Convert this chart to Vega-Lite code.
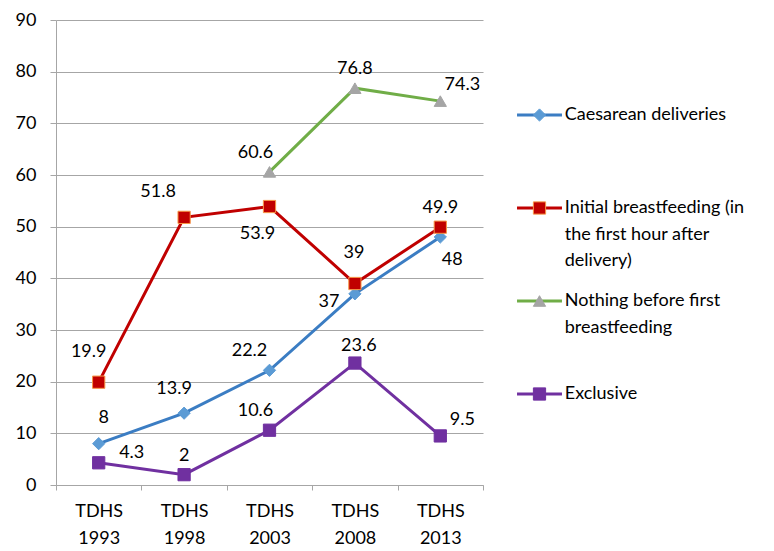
{
  "$schema": "https://vega.github.io/schema/vega-lite/v6.json",
  "width": 427,
  "height": 465,
  "autosize": {"type": "none"},
  "padding": {"left": 56, "top": 20, "right": 291, "bottom": 66},
  "background": "white",
  "config": {
    "view": {"stroke": null},
    "font": "Lato",
    "axis": {"labelFont": "Lato", "labelFontSize": 18, "labelColor": "#000000", "domainColor": "#A6A6A6", "tickColor": "#A6A6A6", "gridColor": "#A6A6A6", "domainWidth": 1, "tickWidth": 1, "gridWidth": 1},
    "legend": {"labelFont": "Lato", "labelFontSize": 18, "labelColor": "#000000", "labelLimit": 400, "padding": 0, "rowPadding": 22, "orient": "none", "labelBaseline": "middle"},
    "text": {"font": "Lato", "fontSize": 18, "color": "#000000"},
    "style": {"guide-label": {"lineHeight": 26.5}}
  },
  "data": {
    "values": [
      {"series": "Caesarean deliveries", "period": "TDHS 1993", "value": 8},
      {"series": "Caesarean deliveries", "period": "TDHS 1998", "value": 13.9},
      {"series": "Caesarean deliveries", "period": "TDHS 2003", "value": 22.2},
      {"series": "Caesarean deliveries", "period": "TDHS 2008", "value": 37},
      {"series": "Caesarean deliveries", "period": "TDHS 2013", "value": 48},
      {"series": "Initial breastfeeding (in the first hour after delivery)", "period": "TDHS 1993", "value": 19.9},
      {"series": "Initial breastfeeding (in the first hour after delivery)", "period": "TDHS 1998", "value": 51.8},
      {"series": "Initial breastfeeding (in the first hour after delivery)", "period": "TDHS 2003", "value": 53.9},
      {"series": "Initial breastfeeding (in the first hour after delivery)", "period": "TDHS 2008", "value": 39},
      {"series": "Initial breastfeeding (in the first hour after delivery)", "period": "TDHS 2013", "value": 49.9},
      {"series": "Nothing before first breastfeeding", "period": "TDHS 2003", "value": 60.6},
      {"series": "Nothing before first breastfeeding", "period": "TDHS 2008", "value": 76.8},
      {"series": "Nothing before first breastfeeding", "period": "TDHS 2013", "value": 74.3},
      {"series": "Exclusive", "period": "TDHS 1993", "value": 4.3},
      {"series": "Exclusive", "period": "TDHS 1998", "value": 2},
      {"series": "Exclusive", "period": "TDHS 2003", "value": 10.6},
      {"series": "Exclusive", "period": "TDHS 2008", "value": 23.6},
      {"series": "Exclusive", "period": "TDHS 2013", "value": 9.5}
    ]
  },
  "encoding": {
    "x": {
      "field": "period", "type": "nominal", "sort": null,
      "scale": {"type": "band", "paddingInner": 0, "paddingOuter": 0},
      "axis": {"title": null, "labelAngle": 0, "tickBand": "extent", "tickSize": 5, "labelPadding": 12, "labelExpr": "split(datum.label, ' ')", "labelLineHeight": 27, "grid": false}
    },
    "y": {
      "field": "value", "type": "quantitative",
      "scale": {"domain": [0, 90], "nice": false},
      "axis": {"title": null, "values": [0, 10, 20, 30, 40, 50, 60, 70, 80, 90], "tickSize": 6, "labelPadding": 14, "grid": true}
    }
  },
  "layer": [
    {
      "mark": {"type": "line", "strokeWidth": 3},
      "encoding": {
        "color": {
          "field": "series", "type": "nominal",
          "scale": {
            "domain": ["Caesarean deliveries", "Initial breastfeeding (in the first hour after delivery)", "Nothing before first breastfeeding", "Exclusive"],
            "range": ["#3B7DC3", "#C00000", "#70AD47", "#7030A0"]
          },
          "legend": {
            "title": null, "legendX": 474.5, "legendY": 86, "zindex": 1,
            "symbolType": "M-3.67,0H3.67", "symbolSize": 150, "symbolStrokeWidth": 3, "labelOffset": 16.25,
            "labelExpr": "datum.label == 'Caesarean deliveries' ? ['Caesarean deliveries', '', ''] : datum.label == 'Exclusive' ? ['Exclusive', '', ''] : datum.label == 'Nothing before first breastfeeding' ? ['Nothing before first', 'breastfeeding', ''] : ['Initial breastfeeding (in', 'the first hour after', 'delivery)']"
          }
        }
      }
    },
    {
      "mark": {"type": "point", "filled": true, "size": 150, "strokeWidth": 1, "opacity": 1},
      "encoding": {
        "shape": {
          "field": "series", "type": "nominal", "sort": null,
          "scale": {"range": ["diamond", "square", "triangle-up", "square"]},
          "legend": {
            "title": null, "legendX": 474.5, "legendY": 86, "zindex": 2, "symbolSize": 150, "symbolStrokeWidth": 1, "labelOpacity": 0, "labelOffset": 16.25,
            "labelExpr": "datum.label == 'Caesarean deliveries' ? ['Caesarean deliveries', '', ''] : datum.label == 'Exclusive' ? ['Exclusive', '', ''] : datum.label == 'Nothing before first breastfeeding' ? ['Nothing before first', 'breastfeeding', ''] : ['Initial breastfeeding (in', 'the first hour after', 'delivery)']"
          }
        },
        "fill": {
          "field": "series", "type": "nominal", "sort": null,
          "scale": {"range": ["#5B9BD5", "#C00000", "#A5A5A5", "#7030A0"]},
          "legend": {
            "title": null, "legendX": 474.5, "legendY": 86, "zindex": 2, "symbolSize": 150, "symbolStrokeWidth": 1, "labelOpacity": 0, "labelOffset": 16.25,
            "labelExpr": "datum.label == 'Caesarean deliveries' ? ['Caesarean deliveries', '', ''] : datum.label == 'Exclusive' ? ['Exclusive', '', ''] : datum.label == 'Nothing before first breastfeeding' ? ['Nothing before first', 'breastfeeding', ''] : ['Initial breastfeeding (in', 'the first hour after', 'delivery)']"
          }
        },
        "stroke": {
          "field": "series", "type": "nominal", "sort": null,
          "scale": {"range": ["#5B9BD5", "#F79646", "#A5A5A5", "#7030A0"]},
          "legend": {
            "title": null, "legendX": 474.5, "legendY": 86, "zindex": 2, "symbolSize": 150, "symbolStrokeWidth": 1, "labelOpacity": 0, "labelOffset": 16.25,
            "labelExpr": "datum.label == 'Caesarean deliveries' ? ['Caesarean deliveries', '', ''] : datum.label == 'Exclusive' ? ['Exclusive', '', ''] : datum.label == 'Nothing before first breastfeeding' ? ['Nothing before first', 'breastfeeding', ''] : ['Initial breastfeeding (in', 'the first hour after', 'delivery)']"
          }
        }
      }
    },
    {"transform": [{"filter": {"field": "value", "oneOf": [76.8, 49.9, 2]}}], "mark": {"type": "text", "dx": 0, "dy": -19}, "encoding": {"text": {"field": "value", "type": "quantitative"}}},
    {"transform": [{"filter": {"field": "value", "oneOf": [23.6]}}], "mark": {"type": "text", "dx": 4, "dy": -17}, "encoding": {"text": {"field": "value", "type": "quantitative"}}},
    {"transform": [{"filter": {"field": "value", "oneOf": [60.6, 10.6]}}], "mark": {"type": "text", "dx": -14, "dy": -19}, "encoding": {"text": {"field": "value", "type": "quantitative"}}},
    {"transform": [{"filter": {"field": "value", "oneOf": [22.2]}}], "mark": {"type": "text", "dx": -20, "dy": -19}, "encoding": {"text": {"field": "value", "type": "quantitative"}}},
    {"transform": [{"filter": {"field": "value", "oneOf": [74.3, 9.5]}}], "mark": {"type": "text", "dx": 22, "dy": -16}, "encoding": {"text": {"field": "value", "type": "quantitative"}}},
    {"transform": [{"filter": {"field": "value", "oneOf": [13.9]}}], "mark": {"type": "text", "dx": -10, "dy": -24}, "encoding": {"text": {"field": "value", "type": "quantitative"}}},
    {"transform": [{"filter": {"field": "value", "oneOf": [19.9]}}], "mark": {"type": "text", "dx": -10, "dy": -30}, "encoding": {"text": {"field": "value", "type": "quantitative"}}},
    {"transform": [{"filter": {"field": "value", "oneOf": [51.8]}}], "mark": {"type": "text", "dx": -26, "dy": -25}, "encoding": {"text": {"field": "value", "type": "quantitative"}}},
    {"transform": [{"filter": {"field": "value", "oneOf": [53.9]}}], "mark": {"type": "text", "dx": -12, "dy": 27}, "encoding": {"text": {"field": "value", "type": "quantitative"}}},
    {"transform": [{"filter": {"field": "value", "oneOf": [39]}}], "mark": {"type": "text", "dx": -1, "dy": -31}, "encoding": {"text": {"field": "value", "type": "quantitative"}}},
    {"transform": [{"filter": {"field": "value", "oneOf": [48]}}], "mark": {"type": "text", "dx": 12, "dy": 23}, "encoding": {"text": {"field": "value", "type": "quantitative"}}},
    {"transform": [{"filter": {"field": "value", "oneOf": [37]}}], "mark": {"type": "text", "dx": -26, "dy": 8}, "encoding": {"text": {"field": "value", "type": "quantitative"}}},
    {"transform": [{"filter": {"field": "value", "oneOf": [8]}}], "mark": {"type": "text", "dx": 5, "dy": -26}, "encoding": {"text": {"field": "value", "type": "quantitative"}}},
    {"transform": [{"filter": {"field": "value", "oneOf": [4.3]}}], "mark": {"type": "text", "dx": 33, "dy": -10}, "encoding": {"text": {"field": "value", "type": "quantitative"}}}
  ]
}
